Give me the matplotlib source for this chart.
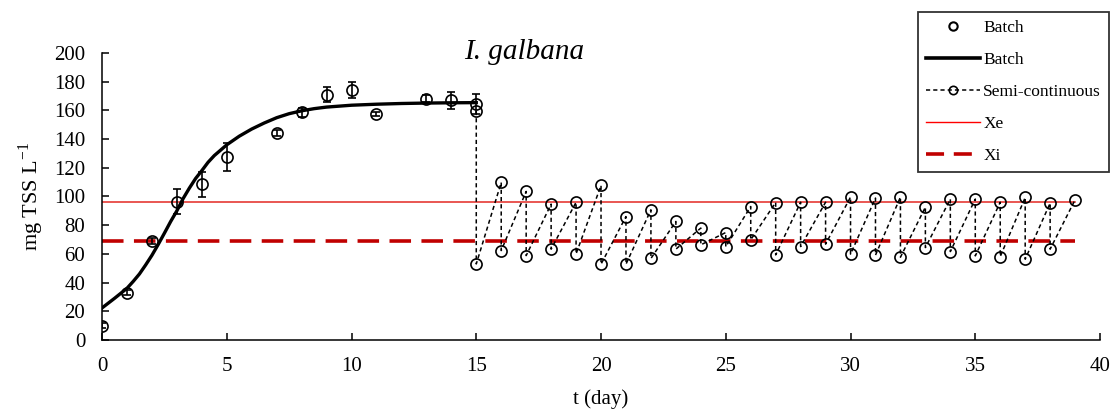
import matplotlib
matplotlib.use("Agg")
import matplotlib.pyplot as plt
from matplotlib.lines import Line2D

plt.rcParams['font.family'] = ['Liberation Serif', 'DejaVu Serif']
plt.rcParams['mathtext.fontset'] = 'custom'
plt.rcParams['mathtext.rm'] = 'Liberation Serif'
plt.rcParams['lines.scale_dashes'] = False

# batch measurements (mean, error)
batch_days = [0, 1, 2, 3, 4, 5, 7, 8, 9, 10, 11, 13, 14, 15]
batch_tss = [10, 33, 69, 96.5, 108.6, 127.5, 144.2, 158.6, 171, 174.4, 157.5, 168, 167, 164.7]
batch_err = [1.5, 2, 2, 9, 8.7, 10, 2, 3, 5, 5.5, 1.5, 2.5, 6, 7]

# batch model curve
curve_days = [0, 0.5, 1, 1.25, 1.5, 1.75, 2, 2.25, 2.5, 2.75, 3, 3.25, 3.5, 3.75, 4, 4.25,
              4.5, 5, 5.5, 6, 6.5, 7, 7.5, 8, 8.5, 9, 10, 11, 12, 13, 14, 15]
curve_tss = [22.3, 29, 36, 40.8, 46, 52.3, 59, 66.5, 74.4, 82.5, 90, 98.5, 105.8, 112.5, 118,
             123.8, 128.5, 136, 142, 147, 151.2, 154.9, 157.7, 159.7, 161.2, 162.3, 163.6,
             164.3, 164.8, 165.1, 165.3, 165.4]

# semi-continuous: value before dilution (high) and right after (low)
semi_high_days = list(range(15, 40))
semi_high = [159.6, 109.8, 103.5, 94.7, 96, 107.7, 86, 90.7, 82.6, 78, 74.9, 93, 95.8, 96, 96,
             99.6, 98.9, 99.6, 92.6, 98.2, 98.2, 96, 99.3, 95.4, 97.7]
semi_low_days = list(range(15, 39))
semi_low = [53, 62.3, 58.8, 63.3, 60, 52.8, 52.8, 56.8, 63.3, 66.3, 65, 69.8, 59.3, 65.1, 66.8,
            59.8, 59.1, 57.7, 64.4, 61.6, 58.6, 58.1, 56.3, 63.3]

xe = 96.3
xi = 69
line_days = [0, 39]

# sawtooth path: high -> low at same day, then low -> next high
sx, sy = [], []
for i, d in enumerate(semi_high_days):
    sx.append(d)
    sy.append(semi_high[i])
    if d in semi_low_days:
        sx.append(d)
        sy.append(semi_low[semi_low_days.index(d)])

fig = plt.figure(figsize=(11.16, 4.13), dpi=100)
ax = fig.add_axes([0.0914, 0.1768, 0.8943, 0.6949])

ax.plot(line_days, [xe, xe], color='#E53935', lw=1.2, zorder=1)
ax.plot(line_days, [xi, xi], color='#C00000', lw=2.6, dashes=(15.5, 7.5), zorder=1)

ax.plot(sx, sy, color='black', lw=1.1, dashes=(3, 2.2), marker='o', ms=8,
        mfc='none', mec='black', mew=1.2, zorder=3)

ax.plot(curve_days, curve_tss, color='black', lw=2.4, zorder=4)
ax.errorbar(batch_days, batch_tss, yerr=batch_err, fmt='o', ms=8, mfc='none', mec='black',
            mew=1.2, ecolor='black', elinewidth=1.2, capsize=3, capthick=1.2, zorder=5)

ax.set_xlim(0, 40)
ax.set_ylim(0, 200)
ax.set_xticks(range(0, 41, 5))
ax.set_yticks(range(0, 201, 20))
for s in ['top', 'right']:
    ax.spines[s].set_visible(False)
for s in ['left', 'bottom']:
    ax.spines[s].set_linewidth(1.1)
ax.tick_params(direction='in', length=5, width=1.1, labelsize=15)
ax.tick_params(axis='x', pad=12)
ax.tick_params(axis='y', pad=12)

ax.set_xlabel('t (day)', fontsize=15, labelpad=10)
ax.set_ylabel('mg TSS L$^{-1}$', fontsize=16, labelpad=6)
fig.text(0.470, 0.875, 'I. galbana', fontsize=21, style='italic', ha='center', va='center')

handles = [
    Line2D([], [], ls='none', marker='o', ms=6, mfc='none', mec='black', mew=1.5),
    Line2D([], [], color='black', lw=2.6),
    Line2D([], [], color='black', lw=1.1, dashes=(3, 2.2), marker='o', ms=6, mfc='none',
           mec='black', mew=1.2),
    Line2D([], [], color='red', lw=1.0),
    Line2D([], [], color='#C00000', lw=2.6, dashes=(13, 7)),
]
labels = ['Batch', 'Batch', 'Semi-continuous', 'Xe', 'Xi']
leg = fig.legend(handles, labels, loc='upper left', bbox_to_anchor=(0.8226, 0.971),
                 fontsize=12.5, frameon=True, fancybox=False, edgecolor='black',
                 handlelength=3.1, handletextpad=0.2, labelspacing=0.92, borderpad=0.45,
                 borderaxespad=0)
leg.get_frame().set_linewidth(1.3)

fig.savefig('out.png', dpi=100)
